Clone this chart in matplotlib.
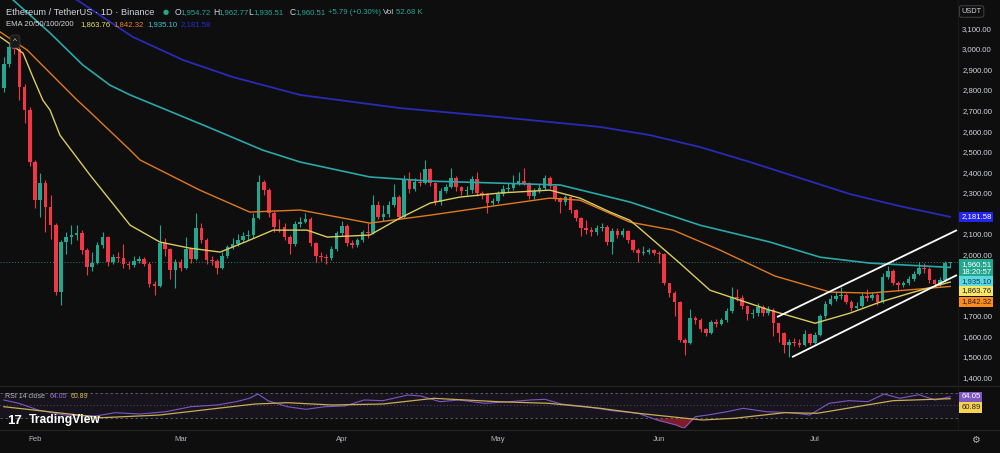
import matplotlib
matplotlib.use('Agg')
import matplotlib.pyplot as plt
from matplotlib.lines import Line2D
import numpy as np

plt.rcParams['font.family'] = ['Liberation Sans', 'DejaVu Sans']

# day numbers counted from Feb 1 (0 = Feb 1)
first_day = -6
first_open = 2810
closes = [2927, 3010, 3000, 2815, 2702, 2449,
          2263, 2346, 2229, 2141, 1815, 2058, 2083, 2093, 2102, 2019,
          1937, 1956, 2044, 2083, 1961, 1985, 1980, 1951, 1946, 1966,
          1975, 1951, 1854, 1844, 2053, 2024, 1922, 1961, 1932, 2024,
          1975, 2127, 2068, 1971, 1966, 1932, 1990, 2034, 2049, 2068,
          2088, 2093, 2176, 2351, 2312, 2200, 2132, 2130, 2083, 2049,
          2146, 2156, 2171, 2054, 1990, 1985, 1980, 2024, 2102, 2136,
          2054, 2045, 2068, 2107, 2105, 2239, 2180, 2195, 2239, 2278,
          2180, 2361, 2317, 2351, 2346, 2415, 2346, 2254, 2307, 2327,
          2371, 2327, 2307, 2312, 2366, 2298, 2288, 2249, 2259, 2295,
          2317, 2322, 2341, 2356, 2346, 2283, 2307, 2322, 2371, 2332,
          2273, 2254, 2278, 2215, 2176, 2127, 2120, 2107, 2127, 2132,
          2059, 2112, 2093, 2112, 2068, 2020, 2005, 2010, 2020, 2005,
          2000, 1858, 1810, 1766, 1580, 1566, 1688, 1680, 1634, 1615,
          1668, 1660, 1678, 1722, 1790, 1785, 1746, 1707, 1712, 1741,
          1712, 1727, 1663, 1615, 1556, 1570, 1565, 1556, 1610, 1566,
          1605, 1698, 1756, 1780, 1795, 1800, 1766, 1737, 1746, 1795,
          1785, 1800, 1766, 1888, 1917, 1858, 1848, 1858, 1878, 1902,
          1932, 1927, 1873, 1854, 1873, 1954.72, 1960.51]
highs = [2960, 3030, 3040, 3010, 2830, 2715,
         2460, 2395, 2360, 2290, 2150, 2070, 2110, 2140, 2140, 2120,
         2030, 2010, 2060, 2110, 2090, 2000, 2010, 2050, 1965, 1990,
         1990, 1985, 1960, 1870, 2140, 2080, 2030, 1975, 1975, 2083,
         2030, 2200, 2150, 2080, 1990, 1975, 2010, 2045, 2080, 2100,
         2110, 2120, 2200, 2385, 2360, 2320, 2210, 2170, 2150, 2095,
         2160, 2180, 2200, 2180, 2060, 2010, 2000, 2040, 2115, 2160,
         2145, 2070, 2080, 2120, 2150, 2290, 2260, 2240, 2260, 2340,
         2290, 2385, 2400, 2370, 2400, 2459, 2420, 2350, 2320, 2340,
         2420, 2380, 2330, 2330, 2380, 2400, 2310, 2300, 2275, 2310,
         2335, 2345, 2385, 2400, 2420, 2350, 2320, 2340, 2385, 2380,
         2340, 2280, 2290, 2285, 2220, 2180, 2165, 2130, 2140, 2150,
         2140, 2125, 2125, 2125, 2120, 2075, 2030, 2040, 2030, 2025,
         2015, 2005, 1860, 1820, 1770, 1590, 1730, 1700, 1690, 1640,
         1680, 1685, 1690, 1735, 1839, 1830, 1800, 1750, 1730, 1760,
         1750, 1745, 1735, 1665, 1620, 1585, 1590, 1585, 1630, 1615,
         1620, 1710, 1770, 1800, 1820, 1840, 1810, 1775, 1765, 1810,
         1830, 1815, 1810, 1910, 1940, 1925, 1870, 1870, 1895, 1920,
         1960, 1955, 1935, 1880, 1890, 1965, 1962.77]
lows = [2790, 2910, 2975, 2750, 2640, 2430,
        2225, 2180, 2110, 2073, 1800, 1750, 2000, 2050, 2070, 2000,
        1900, 1920, 1950, 2030, 1940, 1950, 1960, 1930, 1925, 1935,
        1955, 1940, 1840, 1800, 1840, 1990, 1880, 1834, 1920, 1925,
        1955, 1970, 2055, 1950, 1945, 1905, 1925, 1980, 2025, 2040,
        2060, 2070, 2080, 2170, 2290, 2180, 2110, 2110, 2070, 2000,
        2040, 2130, 2150, 2040, 1960, 1965, 1950, 1970, 2015, 2090,
        2040, 2030, 2035, 2060, 2080, 2100, 2170, 2160, 2180, 2230,
        2170, 2175, 2300, 2310, 2330, 2340, 2330, 2240, 2240, 2300,
        2320, 2310, 2290, 2290, 2300, 2285, 2270, 2200, 2240, 2250,
        2285, 2305, 2315, 2335, 2335, 2270, 2270, 2300, 2315, 2320,
        2260, 2200, 2240, 2200, 2160, 2090, 2100, 2090, 2095, 2115,
        2045, 2000, 2080, 2085, 2055, 2010, 1960, 1995, 2000, 1995,
        1955, 1850, 1790, 1700, 1570, 1507, 1560, 1660, 1620, 1600,
        1610, 1645, 1655, 1670, 1715, 1770, 1730, 1680, 1690, 1700,
        1700, 1705, 1600, 1570, 1520, 1500, 1550, 1545, 1550, 1555,
        1560, 1600, 1690, 1750, 1770, 1780, 1755, 1725, 1730, 1740,
        1770, 1775, 1750, 1760, 1880, 1850, 1820, 1840, 1850, 1870,
        1900, 1910, 1860, 1840, 1845, 1865, 1936.51]

# EMA lines (day, value)
ema20_days = [-6.7, -2.3, -0.4, 1.5, 2.9, 4.8, 10.6, 18.3, 24, 29.8, 35.6, 40.5, 45.8, 52.3, 56.2,
              64.4, 70.2, 76, 81.7, 89.4, 99, 104.8, 110.6, 114.4, 116.3, 124, 129.8, 141.3, 150,
              156.7, 162.5, 168.3, 176]
ema20_vals = [3059, 2980, 2863, 2751, 2702, 2580, 2385, 2141, 2059, 2029, 2010, 2060, 2117, 2117, 2083,
              2093, 2176, 2249, 2278, 2298, 2312, 2273, 2205, 2165, 2125, 1956, 1824, 1727, 1663,
              1712, 1766, 1810, 1863.76]
ema50_days = [-6.7, -1.5, 2.9, 8.1, 10.2, 18.3, 20.2, 31.7, 41.3, 51, 64.4, 76, 89.4, 99, 104.8,
              114.4, 122.7, 131.7, 142.3, 152.9, 160.6, 176]
ema50_vals = [3083, 2995, 2883, 2751, 2702, 2507, 2459, 2312, 2205, 2215, 2151, 2190, 2239, 2273, 2263,
              2156, 2117, 2020, 1893, 1815, 1810, 1842.32]
ema100_days = [-6.7, -4.2, 2.9, 9.2, 14.4, 18.3, 25.4, 33.7, 43.8, 51, 64.4, 76, 89.4, 101, 114.4,
               127.9, 141.3, 151, 160.6, 176]
ema100_vals = [3330, 3239, 3078, 2922, 2824, 2776, 2702, 2615, 2507, 2449, 2376, 2356, 2346, 2337, 2254,
               2141, 2059, 1985, 1956, 1935.10]
ema200_days = [-6.7, 8.1, 18.8, 28.5, 38.1, 51, 70.2, 89.4, 108.7, 118.3, 127.9, 137.5, 147.1, 156.7,
               166.3, 176]
ema200_vals = [3385, 3239, 3059, 2946, 2863, 2776, 2712, 2668, 2620, 2580, 2522, 2449, 2371, 2293,
               2234, 2181.58]

# parallel channel drawn on the chart
channel_upper = ([142.7, 177.3], [1693, 2117])
channel_lower = ([145.6, 177.3], [1498, 1898])

# RSI 14 and its moving average
rsi_days = [-6, -3.1, 0.6, 5.6, 11.7, 15.4, 20.2, 25.2, 30, 35, 38.7, 41.2, 42.9, 44.8, 48.5, 52.1,
            55.8, 59.6, 63.3, 66.9, 71.7, 74.2, 77.9, 81.5, 86.5, 91.3, 95.2, 98.1, 101.2, 106.2,
            111, 116, 119.6, 123.3, 124.8, 127, 129.4, 133.1, 136.2, 140.6, 145.4, 149, 152.7,
            156.5, 160.2, 163.3, 166.3, 170, 173.1, 176]
rsi_vals = [58.8, 53.5, 42.8, 34.8, 33.2, 38.5, 36.4, 40.1, 48.1, 50.8, 56.1, 61.5, 68.4, 57.7, 48.1,
            43.9, 48.1, 49.2, 58.8, 57.7, 66.8, 65.2, 56.1, 58.8, 53.5, 56.1, 58.8, 59.9, 52.4, 48.1,
            41.7, 37.5, 26.8, 18.8, 13.5, 32.1, 34.8, 40.1, 45.5, 40.1, 38.5, 34.8, 53.5, 57.7,
            56.1, 68.4, 61.5, 67.3, 58.8, 64.05]
rsi_ma_days = [-6, 12.9, 24, 42.3, 48.5, 57.1, 66.9, 76.7, 89, 98.8, 108.7, 116, 128.3, 134.4,
               144.2, 150.4, 165, 176]
rsi_ma_vals = [48.1, 30.5, 34.8, 52.4, 54.5, 50.8, 52.4, 61.5, 56.1, 53.5, 45.5, 37.5, 26.8, 29.5,
               38.5, 37.5, 57.7, 60.89]

month_days = [0, 28, 59, 89, 120, 150]
month_labels = ['Feb', 'Mar', 'Apr', 'May', 'Jun', 'Jul']

# price levels shown on the right scale (the rest sit under the value tags)
price_ticks = [1400, 1500, 1600, 1700, 2000, 2100, 2300, 2400, 2500, 2600, 2700, 2800, 2900, 3000, 3100]

bg = '#0e0e0e'
txt = '#d1d4dc'
up_col = '#22a68e'
down_col = '#f23645'
c20, c50, c100, c200 = '#d9cc5f', '#e07a1f', '#2aa8a8', '#2a2ab8'

fig = plt.figure(figsize=(10, 4.53), dpi=100, facecolor=bg)
ax = fig.add_axes([0, 0.152, 0.958, 0.848], facecolor=bg)
rax = fig.add_axes([0, 0.0552, 0.958, 0.0927], facecolor=bg, sharex=ax)

for a in (ax, rax):
    for s in a.spines.values():
        s.set_visible(False)

# candles
days = np.arange(first_day, first_day + len(closes))
c = np.array(closes, dtype=float)
o = np.concatenate([[first_open], c[:-1]])
h = np.array(highs, dtype=float)
l = np.array(lows, dtype=float)
cols = np.where(c >= o, up_col, down_col)
ax.vlines(days, l, h, colors=cols, linewidth=0.8, zorder=2)
body = np.maximum(np.abs(c - o), 3)
ax.bar(days, body, bottom=np.minimum(o, c), width=0.72, color=cols, linewidth=0, zorder=2)

# EMAs
ax.plot(ema200_days, ema200_vals, color=c200, lw=1.3, zorder=3)
ax.plot(ema100_days, ema100_vals, color=c100, lw=1.2, zorder=3)
ax.plot(ema50_days, ema50_vals, color=c50, lw=1.0, zorder=3)
ax.plot(ema20_days, ema20_vals, color=c20, lw=1.0, zorder=3)

# channel
ax.plot(*channel_upper, color='white', lw=1.3, zorder=4, solid_capstyle='butt')
ax.plot(*channel_lower, color='white', lw=1.3, zorder=4, solid_capstyle='butt')

# last price line
ax.axhline(closes[-1], color='#2a9d8f', lw=0.7, ls=(0, (1, 2)), alpha=0.8, zorder=1)

ax.set_xlim(-6.73, 177.5)
ax.set_ylim(1366, 3239)
ax.yaxis.tick_right()
ax.set_yticks(price_ticks)
ax.set_yticklabels(['{:,.2f}'.format(v) for v in price_ticks])
ax.tick_params(axis='y', length=0, pad=3, labelsize=5.6, labelcolor=txt)
ax.tick_params(axis='x', length=0, labelbottom=False)

# price scale labels
def price_tag(axis, value, label, fc, tc, dy=0):
    axis.annotate(label, xy=(1, value), xycoords=('axes fraction', 'data'),
                  xytext=(2.3, dy), textcoords='offset points', ha='left', va='center',
                  fontsize=5.6, color=tc, annotation_clip=False, zorder=6,
                  bbox=dict(boxstyle='square,pad=0.22', fc=fc, ec='none'))

price_tag(ax, ema200_vals[-1], '2,181.58', '#2424ee', 'white')
price_tag(ax, closes[-1], '1,960.51\n18:20:57', '#22a68e', 'white', dy=-4.3)
price_tag(ax, ema100_vals[-1], '1,935.10', '#5ad8e0', '#0e3a5a', dy=-10.2)
price_tag(ax, ema20_vals[-1], '1,863.76', '#f6e66a', '#222222', dy=-6.3)
price_tag(ax, ema50_vals[-1], '1,842.32', '#ff8c1a', '#222222', dy=-11.2)

# RSI pane
rsi_d = np.array(rsi_days)
rsi_v = np.array(rsi_vals)
rax.axhspan(30, 70, color='#7e57c2', alpha=0.09, lw=0)
for lev, st in ((70, (0, (3, 3))), (50, (0, (1, 3))), (30, (0, (3, 3)))):
    rax.axhline(lev, color='#787b86', lw=0.6, ls=st, alpha=0.8)
rax.fill_between(rsi_d, rsi_v, 30, where=rsi_v < 30, interpolate=True, color='#b22234', alpha=0.7, lw=0)
rax.plot(rsi_d, rsi_v, color='#7e57c2', lw=0.8)
rax.plot(rsi_ma_days, rsi_ma_vals, color='#c9ad55', lw=0.9)
rax.set_ylim(14, 81.2)
rax.set_yticks([])
rax.set_xticks(month_days)
rax.set_xticklabels(month_labels)
rax.tick_params(axis='x', length=0, pad=6, labelsize=5.6, labelcolor='#b2b5be')

price_tag(rax, rsi_vals[-1], '64.05', '#7e57c2', 'white')
price_tag(rax, rsi_ma_vals[-1], '60.89', '#f5d251', '#222222', dy=-6.2)

# separators
for yy in (1 - 385.5 / 453, 1 - 430 / 453):
    fig.add_artist(Line2D([0, 1], [yy, yy], color='#262626', lw=0.8))
fig.add_artist(Line2D([0.958, 0.958], [1 - 430 / 453, 1], color='#1c1c1c', lw=0.6))

# header legend
y1, y2 = 1 - 12.3 / 453, 1 - 25 / 453
fig.text(0.006, y1, 'Ethereum / TetherUS · 1D · Binance', color=txt, fontsize=6.7, va='center')
fig.text(0.1655, y1, '●', color='#22a68e', fontsize=5, va='center', ha='center', family=['DejaVu Sans'])
for lab, val, xl in (('O', '1,954.72', 0.175), ('H', '1,962.77', 0.213),
                     ('L', '1,936.51', 0.248), ('C', '1,960.51', 0.290)):
    fig.text(xl, y1, lab, color=txt, fontsize=6.2, va='center')
    fig.text(xl + 0.0055, y1, val, color='#26a69a', fontsize=5.6, va='center')
fig.text(0.328, y1, '+5.79 (+0.30%)', color='#26a69a', fontsize=5.6, va='center')
fig.text(0.383, y1, 'Vol', color=txt, fontsize=5.8, va='center')
fig.text(0.396, y1, '52.68 K', color='#26a69a', fontsize=5.6, va='center')

fig.text(0.006, y2, 'EMA 20/50/100/200', color=txt, fontsize=5.6, va='center')
fig.text(0.080, y2, '1,863.76', color='#e8dc6a', fontsize=5.6, va='center')
fig.text(0.113, y2, '1,842.32', color='#e8832a', fontsize=5.6, va='center')
fig.text(0.147, y2, '1,935.10', color='#3cc7d0', fontsize=5.6, va='center')
fig.text(0.181, y2, '2,181.58', color='#2b2bd6', fontsize=5.6, va='center')

fig.text(0.015, 1 - 41.5 / 453, '^', color=txt, fontsize=6, ha='center', va='center',
         bbox=dict(boxstyle='round,pad=0.35', fc='#1a1a1a', ec='#3a3a3a', lw=0.6))

fig.text(0.9615, 1 - 11.5 / 453, 'USDT', color=txt, fontsize=5.3, va='center', ha='left',
         bbox=dict(boxstyle='round,pad=0.3', fc=bg, ec='#4a4a4a', lw=0.6))

# RSI legend
yr = 1 - 397 / 453
fig.text(0.005, yr, 'RSI 14 close', color='#b2b5be', fontsize=5, va='center')
fig.text(0.050, yr, '64.05', color='#9575cd', fontsize=5, va='center')
fig.text(0.071, yr, '60.89', color='#d9b84a', fontsize=5, va='center')

# TradingView mark
ylogo = 1 - 420.5 / 453
fig.text(0.007, ylogo, '17', color='white', fontsize=9.5, fontweight='bold', va='center')
fig.text(0.029, ylogo, 'TradingView', color='white', fontsize=8.7, fontweight='bold', va='center')

fig.text(0.975, 1 - 440 / 453, '\u2699', color='#b2b5be', fontsize=7, ha='center', va='center',
         family=['DejaVu Sans'])

fig.savefig('out.png', dpi=100, facecolor=bg)
